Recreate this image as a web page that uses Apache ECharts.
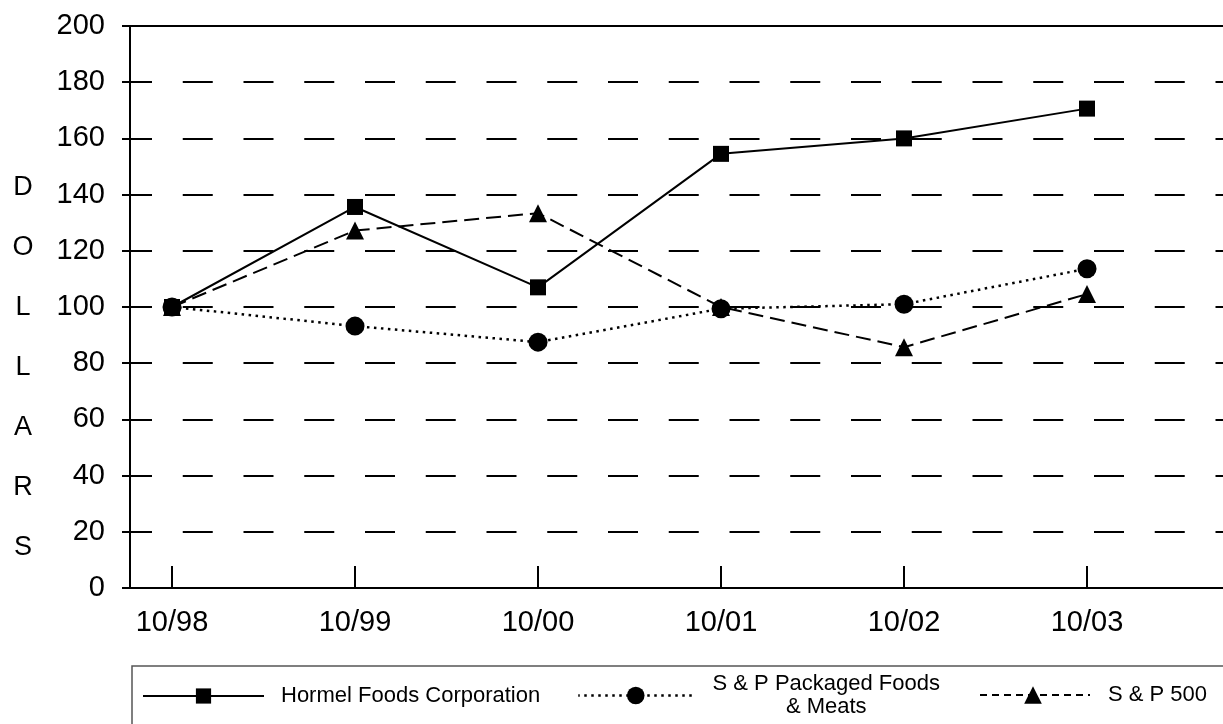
<!DOCTYPE html>
<html>
<head>
<meta charset="utf-8">
<title>Hormel Foods performance</title>
<script src="https://cdn.jsdelivr.net/npm/echarts@6/dist/echarts.min.js"></script>
<style>
  html, body { margin: 0; padding: 0; background: #fff; }
  #chart { width: 1223px; height: 724px; }
</style>
</head>
<body>
<div id="chart"></div>
<script>
// values
const periods = ['10/98', '10/99', '10/00', '10/01', '10/02', '10/03'];
const hormel = [100, 135.6, 107, 154.5, 160, 170.6];
const packagedFoods = [100, 93.2, 87.5, 99.4, 101, 113.6];
const sp500 = [100, 127.2, 133.4, 100, 85.7, 104.6];
const yTicks = [0, 20, 40, 60, 80, 100, 120, 140, 160, 180, 200];

const FONT = "'Liberation Sans', Arial, sans-serif";
const positions = periods.map((p, i) => i);
const toPoints = arr => arr.map((v, i) => [i, v]);

const chart = echarts.init(document.getElementById('chart'));

// the plot runs off the right edge of the picture
const xBase = {
  type: 'value',
  min: -0.2295,
  max: 5.743,
  splitLine: { show: false }
};

const option = {
  animation: false,
  backgroundColor: '#fff',
  grid: { left: 130, right: 0, top: 26, bottom: 136 },
  xAxis: [
    Object.assign({}, xBase, {
      position: 'bottom',
      axisLine: { onZero: false, lineStyle: { color: '#000', width: 2 } },
      axisTick: {
        customValues: positions,
        inside: true,
        length: 22,
        lineStyle: { color: '#000', width: 2 }
      },
      axisLabel: {
        customValues: positions,
        formatter: v => periods[Math.round(v)],
        color: '#000',
        fontSize: 29,
        fontFamily: FONT,
        margin: 20
      }
    }),
    Object.assign({}, xBase, {
      position: 'top',
      axisLine: { onZero: false, lineStyle: { color: '#000', width: 2 } },
      axisTick: { show: false },
      axisLabel: { show: false }
    })
  ],
  yAxis: {
    type: 'value',
    min: yTicks[0],
    max: yTicks[yTicks.length - 1],
    interval: 20,
    axisLine: { show: true, onZero: false, lineStyle: { color: '#000', width: 2 } },
    axisTick: { show: true, length: 8, lineStyle: { color: '#000', width: 2 } },
    axisLabel: {
      color: '#000',
      fontSize: 29,
      fontFamily: FONT,
      margin: 25
    },
    splitLine: {
      show: true,
      lineStyle: { color: '#000', width: 2, type: [30, 30.75], dashOffset: 8 }
    }
  },
  legend: [
    {
      data: ['Hormel Foods Corporation'],
      left: 142, top: 685, padding: 0,
      itemWidth: 121, itemHeight: 19,
      lineStyle: { type: 'solid', width: 2 },
      textStyle: { color: '#000', fontSize: 22, fontFamily: FONT, padding: [0, 0, 0, 12] },
      selectedMode: false
    },
    {
      data: ['S & P Packaged Foods & Meats'],
      left: 577, top: 673, padding: 0,
      itemWidth: 115, itemHeight: 22,
      lineStyle: { type: [2.5, 4.5], width: 2.5 },
      formatter: () => '{a|S & P Packaged Foods}\n{a|& Meats}',
      textStyle: {
        color: '#000', fontSize: 22, fontFamily: FONT,
        rich: { a: { width: 256, align: 'center', fontSize: 22, lineHeight: 23, fontFamily: FONT, color: '#000' } }
      },
      selectedMode: false
    },
    {
      data: ['S & P 500'],
      left: 975, top: 684, padding: 0,
      itemWidth: 114, itemHeight: 22,
      lineStyle: { type: [7, 5], width: 2 },
      textStyle: { color: '#000', fontSize: 22, fontFamily: FONT, padding: [0, 0, 0, 13] },
      selectedMode: false
    }
  ],
  graphic: [
    {
      type: 'rect',
      shape: { x: 132, y: 666, width: 1200, height: 120 },
      style: { fill: 'none', stroke: '#555', lineWidth: 1.5 },
      silent: true
    },
    {
      type: 'text',
      x: 23, y: 158,
      style: {
        text: 'D\nO\nL\nL\nA\nR\nS',
        font: '27px ' + FONT,
        fill: '#000',
        align: 'center',
        lineHeight: 60
      },
      silent: true
    }
  ],
  series: [
    {
      name: 'S & P 500',
      type: 'line',
      data: toPoints(sp500),
      symbol: 'triangle',
      symbolSize: 18,
      lineStyle: { color: '#000', width: 2, type: [15, 7] },
      itemStyle: { color: '#000' },
      z: 2
    },
    {
      name: 'S & P Packaged Foods & Meats',
      type: 'line',
      data: toPoints(packagedFoods),
      symbol: 'circle',
      symbolSize: 19,
      lineStyle: { color: '#000', width: 2.5, type: [2.5, 4.5] },
      itemStyle: { color: '#000' },
      z: 3
    },
    {
      name: 'Hormel Foods Corporation',
      type: 'line',
      data: toPoints(hormel),
      symbol: 'rect',
      symbolSize: 16,
      lineStyle: { color: '#000', width: 2 },
      itemStyle: { color: '#000' },
      z: 4
    }
  ]
};

chart.setOption(option);
</script>
</body>
</html>
